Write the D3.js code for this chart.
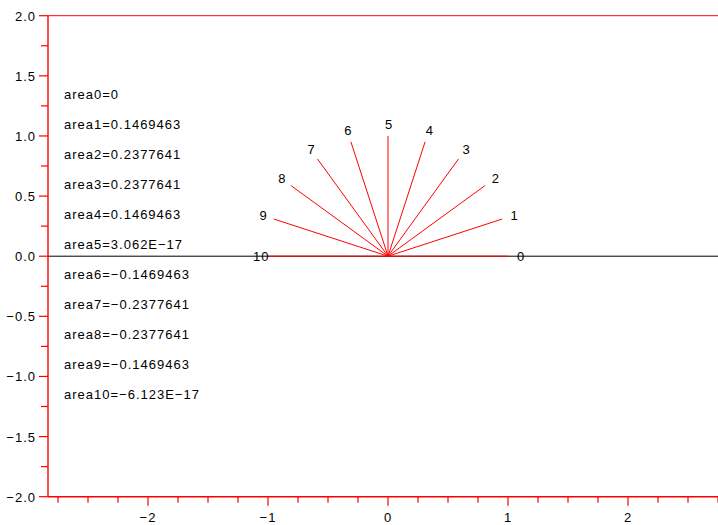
<!DOCTYPE html>
<html><head><meta charset="utf-8">
<script src="https://cdn.jsdelivr.net/npm/d3@7"></script>
<style>
html,body{margin:0;padding:0;background:#fff;}
svg{display:block;}
text{font-family:"Liberation Sans",Arial,sans-serif;font-size:13px;letter-spacing:1px;fill:#000;}
</style></head>
<body>
<script>
// Data
const rayIndices = [0,1,2,3,4,5,6,7,8,9,10];
const rayAnglesDeg = [0,18,36,54,72,90,108,126,144,162,180];
const rayLength = 1;
const labelRadius = 1.1;
const areaLabels = ["area0=0","area1=0.1469463","area2=0.2377641","area3=0.2377641","area4=0.1469463","area5=3.062E\u221217","area6=\u22120.1469463","area7=\u22120.2377641","area8=\u22120.2377641","area9=\u22120.1469463","area10=\u22126.123E\u221217"];
const areaX = -2.7;
const areaY = [1.31,1.06,0.81,0.56,0.31,0.06,-0.19,-0.44,-0.69,-0.94,-1.19];
const xDomain = [-2.8333, 2.8333];
const yDomain = [-2, 2];
const xMajorTicks = [-2,-1,0,1,2];
const yMajorTicks = [2,1.5,1,0.5,0,-0.5,-1,-1.5,-2];

const W = 718, H = 525;
const svg = d3.select("body").append("svg").attr("width", W).attr("height", H);
const x = d3.scaleLinear().domain(xDomain).range([48, 728]);
const y = d3.scaleLinear().domain(yDomain).range([496.7, 15.7]);
const fmtMinus = s => s.replace("-", "\u2212");

// frame top line
svg.append("line").attr("x1", x(xDomain[0])).attr("x2", x(xDomain[1]))
  .attr("y1", y(2)).attr("y2", y(2)).attr("stroke", "#ff0000").attr("stroke-width", 1);

// horizontal black line at y=0
svg.append("line").attr("x1", x(xDomain[0])).attr("x2", x(xDomain[1]))
  .attr("y1", y(0)).attr("y2", y(0)).attr("stroke", "#000").attr("stroke-width", 1);

// x axis
const xMinor = d3.range(-2.75, 2.76, 0.25);
const xAxis = d3.axisBottom(x).tickValues(xMinor)
  .tickSize(0).tickFormat("");
const gx = svg.append("g").attr("transform", `translate(0,${y(-2)})`);
gx.append("line").attr("x1", x(xDomain[0])).attr("x2", x(xDomain[1])).attr("stroke", "#ff0000").attr("stroke-width", 1.4);
gx.selectAll("line.t").data(xMinor).join("line").attr("class","t")
  .attr("x1", d => x(d)).attr("x2", d => x(d)).attr("y1", 0)
  .attr("y2", d => Math.abs(d - Math.round(d)) < 1e-6 ? 9 : 6)
  .attr("stroke", "#ff0000").attr("stroke-width", 1.2);
gx.selectAll("text").data(xMajorTicks).join("text")
  .attr("x", d => x(d)).attr("y", 25).attr("text-anchor", "middle")
  .text(d => fmtMinus(d3.format("d")(d)));

// y axis
const yMinor = d3.range(-2, 2.01, 0.25);
const gy = svg.append("g").attr("transform", `translate(${x(xDomain[0])},0)`);
gy.append("line").attr("y1", y(2)).attr("y2", y(-2)).attr("stroke", "#ff0000").attr("stroke-width", 1.4);
gy.selectAll("line.t").data(yMinor).join("line").attr("class","t")
  .attr("y1", d => y(d)).attr("y2", d => y(d)).attr("x1", 0)
  .attr("x2", d => Math.abs(d*2 - Math.round(d*2)) < 1e-6 ? -9 : -7)
  .attr("stroke", "#ff0000").attr("stroke-width", 1.2);
gy.selectAll("text").data(yMajorTicks).join("text")
  .attr("x", -12).attr("y", d => y(d) + 5).attr("text-anchor", "end")
  .text(d => fmtMinus(d3.format(".1f")(d)));

// rays
const rays = rayIndices.map((i, k) => {
  const a = rayAnglesDeg[k] * Math.PI / 180;
  return {i, cx: rayLength * Math.cos(a), cy: rayLength * Math.sin(a),
          lx: labelRadius * Math.cos(a), ly: labelRadius * Math.sin(a)};
});
svg.append("g").selectAll("line").data(rays).join("line")
  .attr("x1", x(0)).attr("y1", y(0))
  .attr("x2", d => x(d.cx)).attr("y2", d => y(d.cy))
  .attr("stroke", "#ff0000").attr("stroke-width", 1);
svg.append("g").selectAll("text").data(rays).join("text")
  .attr("x", d => x(d.lx) - 3).attr("y", d => y(d.ly) + 5)
  .text(d => d.i);

// area labels
svg.append("g").selectAll("text").data(areaLabels).join("text")
  .attr("x", x(areaX)).attr("y", (d, k) => y(areaY[k]))
  .text(d => d);
</script>
</body></html>
